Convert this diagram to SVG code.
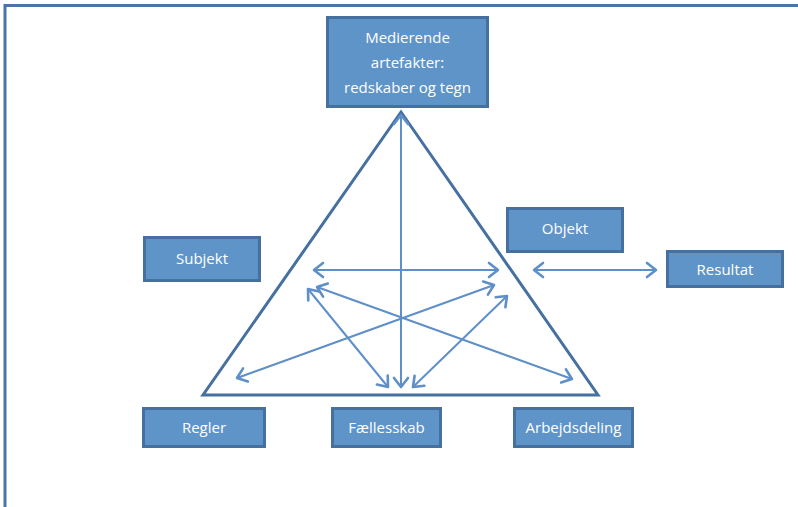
<svg xmlns="http://www.w3.org/2000/svg" width="798" height="507" viewBox="0 0 798 507">
<style>
.box{fill:#5f94c8;stroke:#45709f;stroke-width:3}
.lbl{fill:#ffffff;font-family:"Open Sans","Liberation Sans",sans-serif;font-size:15px;text-anchor:middle}
.con{stroke:#5e8fc8;stroke-width:2;fill:none;marker-start:url(#ah);marker-end:url(#ah)}
</style>
<defs>
<marker id="ah" markerUnits="userSpaceOnUse" orient="auto-start-reverse" markerWidth="20" markerHeight="20" refX="0" refY="0" viewBox="-12 -10 14 20" overflow="visible">
<path d="M-9,-7 L0,0 L-9,7" fill="none" stroke="#5e8fc8" stroke-width="2.6" stroke-linecap="round" stroke-linejoin="round"/>
</marker>
</defs>
<rect width="798" height="507" fill="#ffffff"/>
<path d="M5,507 L5,5.5 L800,5.5" fill="none" stroke="#4a74a5" stroke-width="3"/>
<polygon id="triangle" points="401,112 203,395 598,395" fill="none" stroke="#45709f" stroke-width="3"/>
<g id="connectors">
<line class="con" x1="401" y1="115" x2="401" y2="387"/>
<line class="con" x1="314" y1="270" x2="498" y2="270"/>
<line class="con" x1="534" y1="270" x2="656" y2="270"/>
<line class="con" x1="317" y1="287" x2="572" y2="379"/>
<line class="con" x1="308" y1="289" x2="388" y2="387"/>
<line class="con" x1="237" y1="378" x2="494" y2="285"/>
<line class="con" x1="413" y1="387" x2="507" y2="296"/>
</g>
<g id="medierende">
<rect class="box" x="327.5" y="17.5" width="160" height="89"/>
<text class="lbl" x="407.5" y="43">Medierende</text>
<text class="lbl" x="407.5" y="68">artefakter:</text>
<text class="lbl" x="407.5" y="93">redskaber og tegn</text>
</g>
<g id="subjekt">
<rect class="box" x="144.5" y="237.5" width="115" height="43"/>
<text class="lbl" x="202" y="264">Subjekt</text>
</g>
<g id="objekt">
<rect class="box" x="507.5" y="208.5" width="115" height="43"/>
<text class="lbl" x="565" y="234">Objekt</text>
</g>
<g id="resultat">
<rect class="box" x="667.5" y="251.5" width="115" height="35"/>
<text class="lbl" x="725" y="275">Resultat</text>
</g>
<g id="regler">
<rect class="box" x="143.5" y="408.5" width="121" height="38"/>
<text class="lbl" x="204" y="433">Regler</text>
</g>
<g id="faellesskab">
<rect class="box" x="332.5" y="408.5" width="108" height="38"/>
<text class="lbl" x="386.5" y="433">Fællesskab</text>
</g>
<g id="arbejdsdeling">
<rect class="box" x="514.5" y="408.5" width="118" height="38"/>
<text class="lbl" x="573.5" y="433">Arbejdsdeling</text>
</g>
</svg>
